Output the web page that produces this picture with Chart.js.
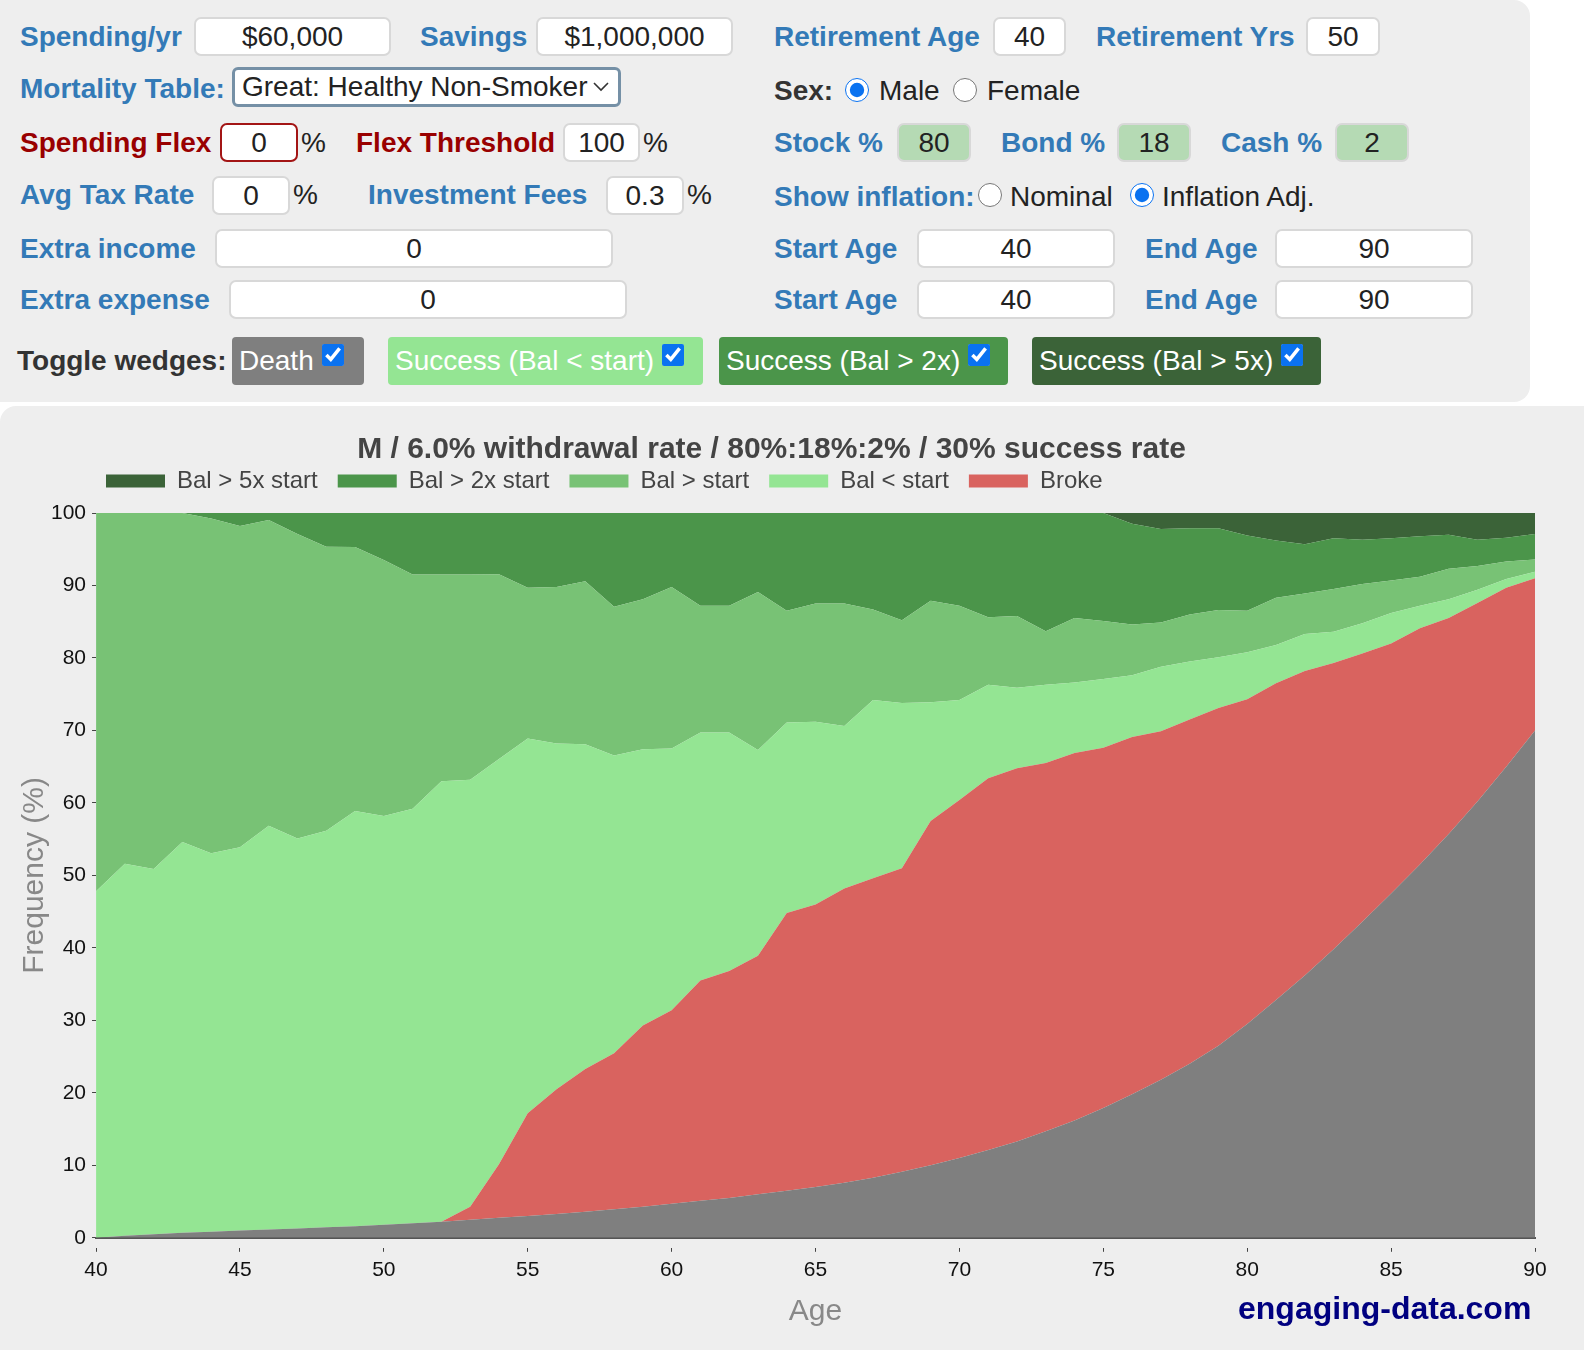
<!DOCTYPE html>
<html>
<head>
<meta charset="utf-8">
<script src="https://cdn.jsdelivr.net/npm/chart.js@4.4.1/dist/chart.umd.min.js"></script>
<style>
  body { margin: 0; width: 1584px; height: 1350px; overflow: hidden; background: #fff;
         font-family: "Liberation Sans", Arial, Helvetica, sans-serif; }
  .panel { position: absolute; background: #eeeeee; }
  .lb { position: absolute; font-weight: bold; font-size: 28px; line-height: 40px; color: #337ab7; white-space: nowrap; }
  .dk { color: #333; }
  .red { color: #990000; }
  .tx { position: absolute; font-size: 28px; line-height: 40px; color: #222; white-space: nowrap; }
  .bx { position: absolute; box-sizing: border-box; height: 39px; background: #fff; border: 2px solid #d8d8d8;
        border-radius: 7px; font-size: 28px; line-height: 35px; text-align: center; color: #222; }
  .gr { background: #b5dab4; }
  .rd { position: absolute; width: 24px; height: 24px; margin: 0; accent-color: #0a72f0; }
  .btn { position: absolute; top: 337px; height: 48px; border-radius: 4px; color: #fff; font-size: 28px;
         line-height: 48px; padding-left: 7px; box-sizing: border-box; white-space: nowrap; }
  .btn input { width: 22px; height: 22px; margin: 0 0 0 8px; vertical-align: 4px; accent-color: #0a72f0; }
</style>
</head>
<body>

<div class="panel" style="left:0;top:0;width:1530px;height:402px;border-radius:0 16px 16px 0;"></div>

<!-- row 1 -->
<div class="lb" style="left:20px;top:17px;">Spending/yr</div>
<div class="bx" style="left:194px;top:17px;width:197px;">$60,000</div>
<div class="lb" style="left:420px;top:17px;">Savings</div>
<div class="bx" style="left:536px;top:17px;width:197px;">$1,000,000</div>
<div class="lb" style="left:774px;top:17px;">Retirement Age</div>
<div class="bx" style="left:993px;top:17px;width:73px;">40</div>
<div class="lb" style="left:1096px;top:17px;">Retirement Yrs</div>
<div class="bx" style="left:1306px;top:17px;width:74px;">50</div>

<!-- row 2 -->
<div class="lb" style="left:20px;top:69px;">Mortality Table:</div>
<div style="position:absolute;left:232px;top:67px;width:389px;height:40px;box-sizing:border-box;border:3px solid #7590a6;border-radius:6px;background:#fff;font-size:28px;line-height:34px;color:#222;padding-left:7px;">Great: Healthy Non-Smoker
  <svg style="position:absolute;right:9px;top:12px;" width="16" height="10"><polyline points="1,1 8,8 15,1" fill="none" stroke="#333" stroke-width="1.6"/></svg>
</div>
<div class="lb dk" style="left:774px;top:71px;">Sex:</div>
<input type="radio" class="rd" style="left:845px;top:78px;" checked>
<div class="tx" style="left:879px;top:71px;">Male</div>
<input type="radio" class="rd" style="left:953px;top:78px;">
<div class="tx" style="left:987px;top:71px;">Female</div>

<!-- row 3 -->
<div class="lb red" style="left:20px;top:123px;">Spending Flex</div>
<div class="bx" style="left:220px;top:123px;width:78px;border-color:#a31515;">0</div>
<div class="tx" style="left:301px;top:123px;">%</div>
<div class="lb red" style="left:356px;top:123px;">Flex Threshold</div>
<div class="bx" style="left:563px;top:123px;width:77px;">100</div>
<div class="tx" style="left:643px;top:123px;">%</div>
<div class="lb" style="left:774px;top:123px;">Stock %</div>
<div class="bx gr" style="left:897px;top:123px;width:74px;">80</div>
<div class="lb" style="left:1001px;top:123px;">Bond %</div>
<div class="bx gr" style="left:1117px;top:123px;width:74px;">18</div>
<div class="lb" style="left:1221px;top:123px;">Cash %</div>
<div class="bx gr" style="left:1335px;top:123px;width:74px;">2</div>

<!-- row 4 -->
<div class="lb" style="left:20px;top:175px;">Avg Tax Rate</div>
<div class="bx" style="left:212px;top:176px;width:78px;">0</div>
<div class="tx" style="left:293px;top:175px;">%</div>
<div class="lb" style="left:368px;top:175px;">Investment Fees</div>
<div class="bx" style="left:606px;top:176px;width:78px;">0.3</div>
<div class="tx" style="left:687px;top:175px;">%</div>
<div class="lb" style="left:774px;top:177px;">Show inflation:</div>
<input type="radio" class="rd" style="left:978px;top:183px;">
<div class="tx" style="left:1010px;top:177px;">Nominal</div>
<input type="radio" class="rd" style="left:1130px;top:183px;" checked>
<div class="tx" style="left:1162px;top:177px;">Inflation Adj.</div>

<!-- row 5 -->
<div class="lb" style="left:20px;top:229px;">Extra income</div>
<div class="bx" style="left:215px;top:229px;width:398px;">0</div>
<div class="lb" style="left:774px;top:229px;">Start Age</div>
<div class="bx" style="left:917px;top:229px;width:198px;">40</div>
<div class="lb" style="left:1145px;top:229px;">End Age</div>
<div class="bx" style="left:1275px;top:229px;width:198px;">90</div>

<!-- row 6 -->
<div class="lb" style="left:20px;top:280px;">Extra expense</div>
<div class="bx" style="left:229px;top:280px;width:398px;">0</div>
<div class="lb" style="left:774px;top:280px;">Start Age</div>
<div class="bx" style="left:917px;top:280px;width:198px;">40</div>
<div class="lb" style="left:1145px;top:280px;">End Age</div>
<div class="bx" style="left:1275px;top:280px;width:198px;">90</div>

<!-- row 7 -->
<div class="lb dk" style="left:17px;top:341px;">Toggle wedges:</div>
<div class="btn" style="left:232px;width:132px;background:#7f7f7f;">Death<input type="checkbox" checked></div>
<div class="btn" style="left:388px;width:315px;background:#94e593;">Success (Bal &lt; start)<input type="checkbox" checked></div>
<div class="btn" style="left:719px;width:289px;background:#4b954a;">Success (Bal &gt; 2x)<input type="checkbox" checked></div>
<div class="btn" style="left:1032px;width:289px;background:#3b6338;">Success (Bal &gt; 5x)<input type="checkbox" checked></div>

<!-- chart panel -->
<div class="panel" style="left:0;top:406px;width:1584px;height:944px;border-top-left-radius:16px;">
  <canvas id="grafico" width="1584" height="944"></canvas>
</div>
<div style="position:absolute;left:1238px;top:1290px;font-weight:bold;font-size:32px;line-height:36px;color:#000080;">engaging-data.com</div>

<script>
// idade (eixo x)
const ages = [40, 41, 42, 43, 44, 45, 46, 47, 48, 49,
              50, 51, 52, 53, 54, 55, 56, 57, 58, 59,
              60, 61, 62, 63, 64, 65, 66, 67, 68, 69,
              70, 71, 72, 73, 74, 75, 76, 77, 78, 79,
              80, 81, 82, 83, 84, 85, 86, 87, 88, 89, 90];

// frequencias (%) por faixa, de baixo para cima
const death = [0, 0.3, 0.5, 0.7, 0.85, 1.0, 1.15, 1.3, 1.45, 1.6,
               1.8, 2.0, 2.2, 2.5, 2.75, 3.0, 3.3, 3.6, 3.95, 4.3,
               4.7, 5.1, 5.5, 6.0, 6.5, 7.0, 7.6, 8.3, 9.1, 10.0,
               11.0, 12.1, 13.3, 14.7, 16.2, 17.9, 19.8, 21.8, 24.0, 26.5,
               29.5, 32.8, 36.2, 39.8, 43.6, 47.5, 51.5, 55.7, 60.2, 65.0, 70.0];
const broke = [0, 0, 0, 0, 0, 0, 0, 0, 0, 0,
               0, 0, 0, 1.8, 7.4, 14.2, 17.2, 19.7, 21.5, 25.0,
               26.7, 30.4, 31.3, 32.9, 38.3, 39.0, 40.6, 41.3, 41.9, 47.5,
               49.4, 51.3, 51.5, 50.8, 50.7, 49.7, 49.3, 48.1, 47.5, 46.6,
               44.8, 43.7, 42.0, 39.5, 37.0, 34.5, 32.6, 29.8, 27.4, 24.7, 21.0];
const balBelow = [47.8, 51.3, 50.4, 53.9, 52.2, 52.9, 55.7, 53.8, 54.7, 57.3,
                  56.4, 57.2, 60.8, 58.9, 55.9, 51.7, 47.7, 44.8, 41.1, 38.1,
                  36.1, 34.2, 32.9, 28.4, 26.3, 25.2, 22.4, 24.6, 22.8, 16.4,
                  13.8, 12.9, 11.1, 10.8, 9.7, 9.5, 8.5, 8.9, 8.0, 7.0,
                  6.5, 5.3, 5.1, 4.3, 4.2, 4.2, 3.1, 2.6, 1.8, 1.2, 0.9];
const balAbove = [52.2, 48.4, 49.1, 45.4, 46.2, 44.3, 42.2, 42.0, 39.2, 36.4,
                  35.3, 32.3, 28.5, 28.3, 25.5, 20.8, 21.6, 22.5, 20.5, 20.7,
                  22.3, 17.5, 17.5, 21.8, 15.4, 16.3, 16.9, 12.5, 11.4, 14.0,
                  13.0, 9.3, 9.9, 7.4, 8.9, 8.0, 7.0, 6.1, 6.5, 6.5,
                  5.7, 6.5, 5.6, 5.9, 5.4, 4.5, 4.0, 4.2, 3.3, 2.4, 1.7];
const bal2x = [0, 0, 0, 0, 0.8, 1.8, 1.0, 2.9, 4.7, 4.7,
               6.5, 8.5, 8.5, 8.5, 8.5, 10.3, 10.2, 9.4, 13.0, 11.9,
               10.2, 12.8, 12.8, 10.9, 13.5, 12.5, 12.5, 13.3, 14.8, 12.1,
               12.8, 14.4, 14.2, 16.3, 14.5, 14.9, 13.9, 12.9, 11.9, 11.3,
               10.4, 7.9, 6.8, 7.0, 6.1, 5.8, 5.6, 4.7, 3.6, 3.3, 3.5];
const bal5x = [0, 0, 0, 0, 0, 0, 0, 0, 0, 0,
               0, 0, 0, 0, 0, 0, 0, 0, 0, 0,
               0, 0, 0, 0, 0, 0, 0, 0, 0, 0,
               0, 0, 0, 0, 0, 0, 1.5, 2.2, 2.1, 2.1,
               3.1, 3.8, 4.3, 3.5, 3.7, 3.5, 3.2, 3.0, 3.7, 3.4, 2.9];

const seriesNames = ['Death', 'Broke', 'Bal < start', 'Bal > start', 'Bal > 2x start', 'Bal > 5x start'];
const seriesColors = ['#7f7f7f', '#d9635f', '#94e593', '#78c275', '#4b954a', '#3b6338'];
const chartTitle = 'M / 6.0% withdrawal rate / 80%:18%:2% / 30% success rate';

Chart.defaults.font.family = '"Liberation Sans", Arial, Helvetica, sans-serif';

// empurra a legenda para a direita, alinhada com o grafico
const legendShift = {
  id: 'legendShift',
  beforeDraw(chart) { chart.legend.left = 86; }
};

const ctx = document.getElementById('grafico').getContext('2d');
const allSeries = [death, broke, balBelow, balAbove, bal2x, bal5x];

new Chart(ctx, {
  type: 'line',
  data: {
    labels: ages,
    datasets: allSeries.map((vals, i) => ({
      label: seriesNames[i],
      data: vals,
      backgroundColor: seriesColors[i],
      borderColor: seriesColors[i],
      borderWidth: 0,
      pointRadius: 0,
      tension: 0,
      fill: i === 0 ? 'origin' : '-1'
    }))
  },
  options: {
    responsive: false,
    animation: false,
    devicePixelRatio: 1,
    layout: { padding: { left: 8, right: 49, top: 0, bottom: 16 } },
    plugins: {
      title: {
        display: true, text: chartTitle, color: '#444',
        font: { size: 30, weight: 'bold' },
        padding: { top: 26, bottom: -19 }
      },
      legend: {
        align: 'start', reverse: true,
        labels: {
          filter: item => item.text !== 'Death',
          boxWidth: 59, boxHeight: 13, padding: 20, color: '#444',
          font: { size: 24 }
        }
      },
      tooltip: { enabled: false }
    },
    scales: {
      x: {
        type: 'linear', min: 40, max: 90,
        ticks: { stepSize: 5, color: '#111', font: { size: 21 }, padding: 6 },
        grid: { drawOnChartArea: false, tickLength: 14, tickBorderDash: [0, 9, 4, 100], tickColor: '#444', tickWidth: 1 },
        border: { display: true, color: '#555', width: 2 },
        title: { display: true, text: 'Age', color: '#888', font: { size: 30 }, padding: { top: 5, bottom: 4 } }
      },
      // eixo vazio so para dar espaco entre a legenda e o grafico
      gap: {
        type: 'linear', position: 'top', min: 40, max: 90,
        ticks: { display: false }, grid: { display: false }, border: { display: false },
        afterFit: scale => { scale.height = 10; }
      },
      y: {
        stacked: true, min: 0, max: 100,
        ticks: { stepSize: 10, color: '#111', font: { size: 21 }, padding: 3 },
        grid: { drawOnChartArea: false, tickLength: 7, tickBorderDash: [0, 3, 4, 100], tickColor: '#444', tickWidth: 1 },
        border: { display: false },
        title: { display: true, text: 'Frequency (%)', color: '#888', font: { size: 30 }, padding: { top: 9, bottom: -5 } }
      }
    }
  },
  plugins: [legendShift]
});
</script>
</body>
</html>
